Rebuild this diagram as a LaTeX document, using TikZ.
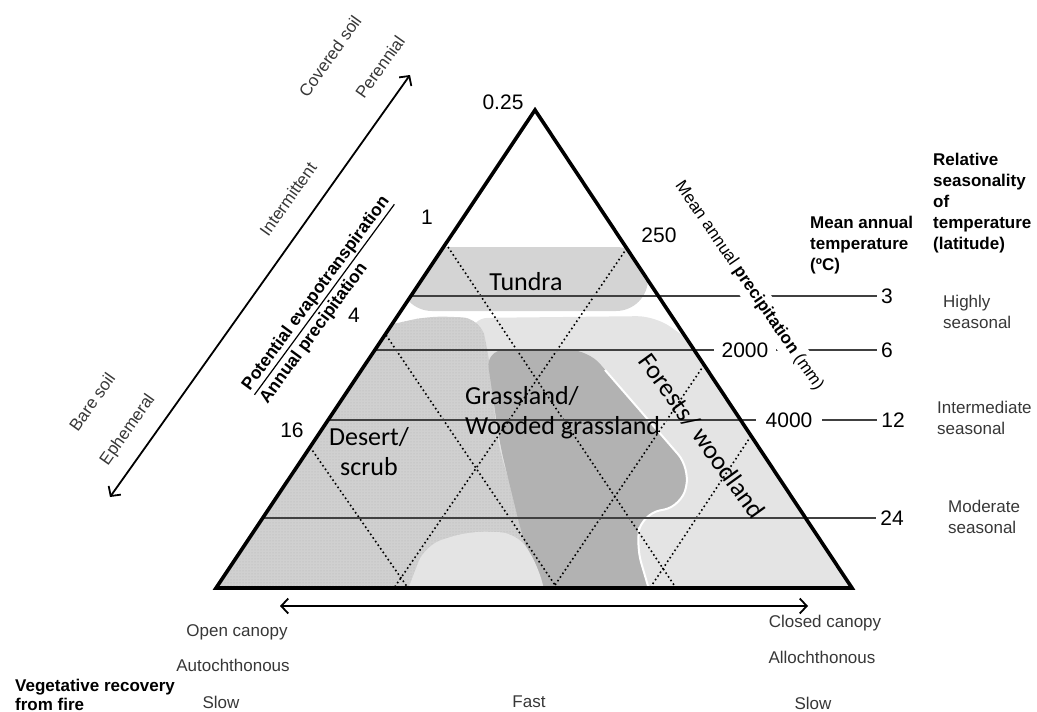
\documentclass[tikz,border=0pt]{standalone}
\usepackage{fontspec}
\setmainfont{Liberation Sans}
\newfontfamily\biomefont{Carlito}
\usepackage{xcolor}
\usetikzlibrary{positioning, arrows.meta, patterns}

\definecolor{tundragray}{RGB}{212,212,212}
\definecolor{desertgray}{RGB}{208,208,208}
\definecolor{speckgray}{RGB}{178,178,178}
\definecolor{grassgray}{RGB}{178,178,178}
\definecolor{forestgray}{RGB}{228,228,228}
\definecolor{labelgray}{RGB}{55,55,55}

% underline that hangs below the baseline
\newcommand{\ulined}[1]{\leavevmode\vtop{\hbox{#1}\kern1.5pt\hrule height 1.2pt}}

\tikzset{
    zone/.style={rounded corners=18pt},
    desertzone/.style={zone, fill=desertgray, postaction={pattern=dots, pattern color=speckgray}},
    lattice/.style={black, line width=1.6pt, dash pattern=on 1.6pt off 2.8pt},
    isoline/.style={black!75, line width=1.2pt},
    frame/.style={black, line width=3.6pt, line join=miter},
    axisarrow/.style={{Straight Barb[length=7pt,width=15pt]}-{Straight Barb[length=7pt,width=15pt]}, line width=1.8pt},
    scalenum/.style={font=\fontsize{21}{25}\selectfont, inner sep=4pt},
    biome/.style={font=\biomefont\fontsize{26}{30}\selectfont, inner sep=0pt},
    note/.style={font=\fontsize{17}{21}\selectfont, text=labelgray, align=left, inner sep=0pt},
    header/.style={font=\bfseries\fontsize{17}{21}\selectfont, align=left, inner sep=0pt, anchor=north west}
}

\begin{document}
\begin{tikzpicture}[x=1pt, y=-1pt]
    \useasboundingbox (0,0) rectangle (1037,712);

    % Triangle corners
    \coordinate (apex) at (535,110);
    \coordinate (cornerL) at (216,588);
    \coordinate (cornerR) at (852,588);

    % Vegetation zones
    \begin{scope}
        \clip (apex) -- (cornerL) -- (cornerR) -- cycle;
        \fill[zone, forestgray] (470,318) -- (655,316) -- (725,365) -- (880,610) -- (470,610) -- cycle;
        \path[desertzone] (385,326) -- (428,316) -- (480,318) -- (488,350) -- (498,445) -- (518,510) -- (548,610) -- (200,610) -- (200,326) -- cycle;
        \fill[zone, grassgray] (486,350) -- (588,350) -- (690,468) -- (682,506) -- (642,514) -- (636,545) -- (655,610) -- (546,610) -- (522,535) -- (500,445) -- cycle;
        \draw[white, line width=2pt, rounded corners=18pt] (605,370) -- (690,468) -- (682,506) -- (642,514) -- (636,545) -- (655,610);
        \fill[zone, forestgray] (400,610) -- (425,545) -- (470,531) -- (518,533) -- (540,570) -- (548,610) -- cycle;
        \fill[tundragray, rounded corners=32pt] (400,247) -- (648,247) -- (648,311) -- (400,311) -- cycle;
    \end{scope}

    % Lattice
    \draw[lattice] (448,247) -- (676,588);
    \draw[lattice] (386,335) -- (557,588);
    \draw[lattice] (310,447) -- (408,588);
    \draw[lattice] (627,248) -- (394,588);
    \draw[lattice] (704,365) -- (553,588);
    \draw[lattice] (751,436) -- (650,588);

    % Temperature isolines
    \node[scalenum] (t3) at (887,296) {3};
    \node[scalenum] (t6) at (887,350) {6};
    \node[scalenum] (t12) at (893,420) {12};
    \node[scalenum] (t24) at (892,518) {24};
    \draw[isoline] (411,296) -- (t3.west);
    \draw[isoline] (375,350) -- (t6.west);
    \draw[isoline] (328,420) -- (t12.west);
    \draw[isoline] (263,518) -- (t24.west);

    % Frame
    \draw[frame] (apex) -- (cornerL) -- (cornerR) -- cycle;

    % Precipitation scale
    \node[font=\fontsize{17}{21}\selectfont, fill=white, rotate=-55.5, inner sep=5pt] (precipAxis) at (749,286) {Mean annual \textbf{precipitation} (mm)};
    \node[scalenum] (p250) at (659,235) {250};
    \node[scalenum, fill=white, inner sep=8pt] (p2000) at (745,350) {2000};
    \node[scalenum, fill=white, inner sep=10pt] (p4000) at (789,420) {4000};

    % Ratio scale
    \node[scalenum] (r025) at (503,102) {0.25};
    \node[scalenum] (r1) at (427,217) {1};
    \node[scalenum] (r4) at (354,315) {4};
    \node[scalenum] (r16) at (292,430) {16};
    \node[font=\bfseries\fontsize{17.5}{22}\selectfont, align=left, rotate=53.7] (petRatio) at (325,300) {\ulined{Potential evapotranspiration}\\Annual precipitation};

    % Biomes
    \node[biome] (tundra) at (526,282) {Tundra};
    \node[biome, align=center] (desert) at (369,452) {Desert/\\scrub};
    \node[biome, align=left, anchor=west] (grass) at (465,413) {Grassland/\\Wooded grassland};
    \node[biome, rotate=-54.2] (forest) at (702,436) {Forests/ woodland};

    % Soil axis
    \coordinate (soilLow) at (110,497);
    \coordinate (soilHigh) at (410,75);
    \draw[axisarrow] (soilLow) -- (soilHigh);
    \node[note, rotate=54.6] (covered) at (330,56) {Covered soil};
    \node[note, rotate=54.6] (perennial) at (380,67) {Perennial};
    \node[note, rotate=54.6] (intermittent) at (288,199) {Intermittent};
    \node[note, rotate=54.6] (bare) at (92,402) {Bare soil};
    \node[note, rotate=54.6] (ephemeral) at (128,430) {Ephemeral};

    % Canopy axis
    \coordinate (canopyOpen) at (280,606);
    \coordinate (canopyClosed) at (808,606);
    \draw[axisarrow] (canopyOpen) -- (canopyClosed);
    \node[note] (openCanopy) at (237,632) {Open canopy};
    \node[note] (autoch) at (233,665) {Autochthonous};
    \node[note] (slowL) at (221,702) {Slow};
    \node[note] (fast) at (529,702) {Fast};
    \node[note] (closedCanopy) at (825,623) {Closed canopy};
    \node[note] (alloch) at (822,657) {Allochthonous};
    \node[note] (slowR) at (813,703) {Slow};
    \node[header, font=\bfseries\fontsize{17}{19}\selectfont] (recovery) at (15,679) {Vegetative recovery\\from fire};

    % Temperature columns
    \node[header] (tempHead) at (810,216) {Mean annual\\temperature\\(ºC)};
    \node[header] (seasonHead) at (933,153) {Relative\\seasonality\\of\\temperature\\(latitude)};
    \node[note, anchor=north west] (highly) at (943,295) {Highly\\seasonal};
    \node[note, anchor=north west] (intermediate) at (937,401) {Intermediate\\seasonal};
    \node[note, anchor=north west] (moderate) at (948,500) {Moderate\\seasonal};
\end{tikzpicture}
\end{document}
